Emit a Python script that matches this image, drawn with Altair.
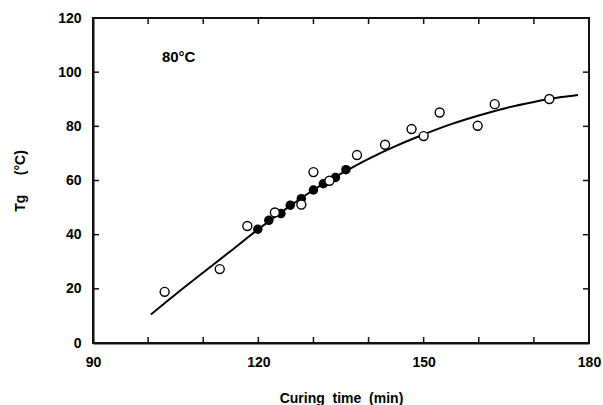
import altair as alt
import pandas as pd

# Open circles
open_x = [103.0, 113.0, 118.0, 123.0, 127.8, 130.0, 132.9, 137.9, 143.0, 147.8, 150.0, 152.9, 159.8, 162.9, 172.8]
open_y = [18.9, 27.3, 43.2, 48.2, 51.1, 63.1, 59.9, 69.4, 73.2, 79.0, 76.4, 85.1, 80.2, 88.2, 90.1]

# Filled circles
filled_x = [119.9, 121.9, 124.1, 125.8, 127.8, 130.0, 131.8, 134.0, 135.9]
filled_y = [42.0, 45.3, 47.8, 50.9, 53.3, 56.5, 58.8, 61.1, 64.0]

# Fitted curve
curve_x = [100.5, 105, 110, 115, 120, 125, 130, 135, 140, 145, 150, 155, 160, 165, 170, 175, 178]
curve_y = [10.5, 18.0, 26.0, 34.0, 42.0, 49.5, 56.5, 62.5, 68.0, 72.8, 77.0, 80.8, 84.0, 86.8, 89.0, 90.8, 91.6]

x_labels = [90, 120, 150, 180]
x_ticks = [100, 110, 120, 130, 140, 150, 160, 170]
y_labels = [0, 20, 40, 60, 80, 100, 120]
y_ticks = [20, 40, 60, 80, 100]

note_text = ["80°C"]
note_x = [102.5]
note_y = [105.5]

NB = "\u00a0"
x_title = "Curing" + NB * 2 + "time" + NB * 2 + "(min)"
y_title = "Tg" + NB * 5 + "(°C)"

W, H = 496, 325
FONT = "Liberation Sans"
INK = "#111111"

open_df = pd.DataFrame({"x": open_x, "y": open_y})
filled_df = pd.DataFrame({"x": filled_x, "y": filled_y})
curve_df = pd.DataFrame({"x": curve_x, "y": curve_y})
xt_df = pd.DataFrame({"x": x_ticks})
yt_df = pd.DataFrame({"y": y_ticks})
note_df = pd.DataFrame({"x": note_x, "y": note_y, "t": note_text})
one_df = pd.DataFrame({"a": [0]})

xscale = alt.Scale(domain=[90, 180], nice=False, zero=False)
yscale = alt.Scale(domain=[0, 120], nice=False)

xaxis = alt.Axis(values=x_labels, ticks=False, domain=True, domainColor=INK, domainWidth=2,
                 grid=False,
                 labelFont=FONT, labelFontSize=14, labelFontWeight="bold", labelColor="black",
                 labelPadding=12, title=x_title, titleFont=FONT, titleFontSize=14,
                 titleFontWeight="bold", titleColor="black", titlePadding=22, labelFlush=False)
yaxis = alt.Axis(values=y_labels, ticks=False, domain=True, domainColor=INK, domainWidth=2,
                 grid=False,
                 labelFont=FONT, labelFontSize=14, labelFontWeight="bold", labelColor="black",
                 labelPadding=12, title=y_title, titleFont=FONT, titleFontSize=14,
                 titleFontWeight="bold", titleColor="black", titlePadding=30, labelFlush=False)

tb = alt.Chart(xt_df).mark_rule(color=INK, strokeWidth=1.5).encode(
    x=alt.X("x:Q", scale=xscale), y=alt.value(H), y2=alt.value(H - 6))
tt = alt.Chart(xt_df).mark_rule(color=INK, strokeWidth=1.5).encode(
    x=alt.X("x:Q", scale=xscale), y=alt.value(0), y2=alt.value(6))
tl = alt.Chart(yt_df).mark_rule(color=INK, strokeWidth=1.5).encode(
    y=alt.Y("y:Q", scale=yscale), x=alt.value(0), x2=alt.value(6))
tr = alt.Chart(yt_df).mark_rule(color=INK, strokeWidth=1.5).encode(
    y=alt.Y("y:Q", scale=yscale), x=alt.value(W), x2=alt.value(W - 6))

frame = alt.Chart(one_df).mark_rect(filled=False, stroke=INK, strokeWidth=2).encode(
    x=alt.value(0), x2=alt.value(W), y=alt.value(0), y2=alt.value(H))

curve = alt.Chart(curve_df).mark_line(color="black", strokeWidth=2, interpolate="monotone").encode(
    x=alt.X("x:Q", scale=xscale, axis=xaxis),
    y=alt.Y("y:Q", scale=yscale, axis=yaxis),
)

filled = alt.Chart(filled_df).mark_circle(color="black", size=90, opacity=1).encode(
    x=alt.X("x:Q", scale=xscale), y=alt.Y("y:Q", scale=yscale)
)

open_bg = alt.Chart(open_df).mark_circle(color="white", size=80, opacity=1).encode(
    x=alt.X("x:Q", scale=xscale), y=alt.Y("y:Q", scale=yscale)
)
opened = alt.Chart(open_df).mark_point(shape="circle", filled=False, color="black",
                                       strokeWidth=1.4, size=80, opacity=1).encode(
    x=alt.X("x:Q", scale=xscale), y=alt.Y("y:Q", scale=yscale)
)

note = alt.Chart(note_df).mark_text(align="left", baseline="middle", font=FONT, fontSize=15,
                                    fontWeight="bold", color="black").encode(
    x=alt.X("x:Q", scale=xscale), y=alt.Y("y:Q", scale=yscale), text="t:N")

chart = alt.layer(tb, tt, tl, tr, frame, curve, filled, open_bg, opened, note).properties(
    width=W, height=H,
    background="white",
    autosize=alt.AutoSizeParams(type="none"),
    padding={"left": 93, "top": 18, "right": 14, "bottom": 62},
).configure_view(stroke=INK, strokeWidth=2)

chart.save("out.html", embed_options={"renderer": "svg", "actions": False})
